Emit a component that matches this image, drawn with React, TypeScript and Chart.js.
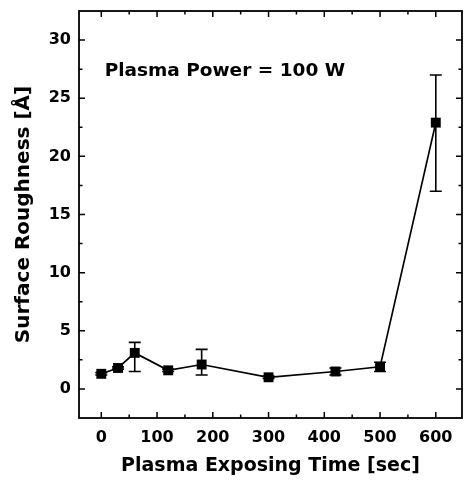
import React, { useEffect, useRef } from "react";
import { Chart, registerables } from "chart.js";

Chart.register(...registerables);

// ---- data ----
const times = [0, 30, 60, 120, 180, 300, 420, 500, 600];
const roughness = [1.3, 1.8, 3.1, 1.6, 2.1, 1.0, 1.5, 1.9, 22.9];
const errPlus = [0.1, 0.1, 0.9, 0.1, 1.3, 0.1, 0.3, 0.4, 4.1];
const errMinus = [0.1, 0.1, 1.6, 0.1, 0.9, 0.1, 0.3, 0.4, 5.9];
const xTickValues = [0, 100, 200, 300, 400, 500, 600];
const xMinorValues = [50, 150, 250, 350, 450, 550];
const yTickValues = [0, 5, 10, 15, 20, 25, 30];
const yMinorValues = [2.5, 7.5, 12.5, 17.5, 22.5, 27.5];
const annotationText = "Plasma Power = 100 W";
const xTitle = "Plasma Exposing Time [sec]";
const yTitle = "Surface Roughness [Å]";

const FONT = "'DejaVu Sans', sans-serif";

const decorPlugin = {
  id: "decor",
  beforeDatasetsDraw(chart: any) {
    const { ctx } = chart;
    const xs = chart.scales.x;
    const ys = chart.scales.y;
    ctx.save();
    ctx.strokeStyle = "#000";
    ctx.lineWidth = 1.6;
    const cap = 6;
    times.forEach((t, i) => {
      const px = xs.getPixelForValue(t);
      const top = ys.getPixelForValue(roughness[i] + errPlus[i]);
      const bot = ys.getPixelForValue(roughness[i] - errMinus[i]);
      ctx.beginPath();
      ctx.moveTo(px, top);
      ctx.lineTo(px, bot);
      ctx.moveTo(px - cap, top);
      ctx.lineTo(px + cap, top);
      ctx.moveTo(px - cap, bot);
      ctx.lineTo(px + cap, bot);
      ctx.stroke();
    });
    ctx.restore();
  },
  afterDraw(chart: any) {
    const { ctx, chartArea: a } = chart;
    const xs = chart.scales.x;
    const ys = chart.scales.y;
    ctx.save();
    ctx.strokeStyle = "#000";
    ctx.lineWidth = 1.8;
    ctx.strokeRect(a.left, a.top, a.right - a.left, a.bottom - a.top);
    ctx.lineWidth = 1.5;
    const major = 6;
    const minor = 3.5;
    ctx.beginPath();
    const xt = (v: number, len: number) => {
      const px = xs.getPixelForValue(v);
      ctx.moveTo(px, a.bottom);
      ctx.lineTo(px, a.bottom - len);
      ctx.moveTo(px, a.top);
      ctx.lineTo(px, a.top + len);
    };
    const yt = (v: number, len: number) => {
      const py = ys.getPixelForValue(v);
      ctx.moveTo(a.left, py);
      ctx.lineTo(a.left + len, py);
      ctx.moveTo(a.right, py);
      ctx.lineTo(a.right - len, py);
    };
    xTickValues.forEach((v) => xt(v, major));
    xMinorValues.forEach((v) => xt(v, minor));
    yTickValues.forEach((v) => yt(v, major));
    yMinorValues.forEach((v) => yt(v, minor));
    ctx.stroke();

    ctx.fillStyle = "#000";
    ctx.font = `bold 18.5px ${FONT}`;
    ctx.textAlign = "left";
    ctx.textBaseline = "middle";
    ctx.fillText(annotationText, xs.getPixelForValue(6), ys.getPixelForValue(27.3));
    ctx.restore();
  },
};

export default function App() {
  const ref = useRef<HTMLCanvasElement>(null);
  useEffect(() => {
    if (!ref.current) return;
    const tickFont = { family: FONT, size: 16, weight: "bold" as const };
    const chart = new Chart(ref.current, {
      type: "line",
      data: {
        datasets: [
          {
            data: times.map((t, i) => ({ x: t, y: roughness[i] })),
            borderColor: "#000",
            borderWidth: 1.7,
            backgroundColor: "#000",
            pointStyle: "rect",
            pointRadius: 7,
            pointBorderWidth: 0,
            pointBackgroundColor: "#000",
            tension: 0,
            clip: false as any,
          },
        ],
      },
      options: {
        responsive: false,
        animation: false,
        layout: { autoPadding: false, padding: { left: 0, right: 4, top: 11, bottom: 0 } },
        plugins: { legend: { display: false }, tooltip: { enabled: false } },
        scales: {
          x: {
            type: "linear",
            min: -40,
            max: 647,
            grid: { display: false, drawTicks: false },
            border: { display: false },
            ticks: {
              font: tickFont,
              color: "#000",
              padding: 10,
              autoSkip: false,
              maxRotation: 0,
              includeBounds: false,
            },
            afterBuildTicks: (s: any) => {
              s.ticks = xTickValues.map((v) => ({ value: v }));
            },
            afterFit: (s: any) => {
              s.height = 62;
              s.paddingLeft = 0;
              s.paddingRight = 0;
              s.paddingTop = 0;
              s.paddingBottom = 0;
            },
            title: {
              display: true,
              text: xTitle,
              color: "#000",
              font: { family: FONT, size: 19, weight: "bold", lineHeight: 1.2 },
              padding: { top: 0, bottom: 3 },
            },
          },
          y: {
            type: "linear",
            min: -2.5,
            max: 32.5,
            grid: { display: false, drawTicks: false },
            border: { display: false },
            ticks: {
              font: tickFont,
              color: "#000",
              padding: 8,
              autoSkip: false,
              includeBounds: false,
            },
            afterBuildTicks: (s: any) => {
              s.ticks = yTickValues.map((v) => ({ value: v }));
            },
            afterFit: (s: any) => {
              s.width = 79;
              s.paddingLeft = 0;
              s.paddingRight = 0;
              s.paddingTop = 0;
              s.paddingBottom = 0;
            },
            title: {
              display: true,
              text: yTitle,
              color: "#000",
              font: { family: FONT, size: 20, weight: "bold", lineHeight: 1.2 },
              padding: { top: 12, bottom: 0 },
            },
          },
        },
      },
      plugins: [decorPlugin],
    });
    return () => chart.destroy();
  }, []);
  return (
    <div style={{ position: "absolute", left: 0, top: 0, width: 466, height: 480, background: "#fff" }}>
      <canvas ref={ref} width={466} height={480} />
    </div>
  );
}
